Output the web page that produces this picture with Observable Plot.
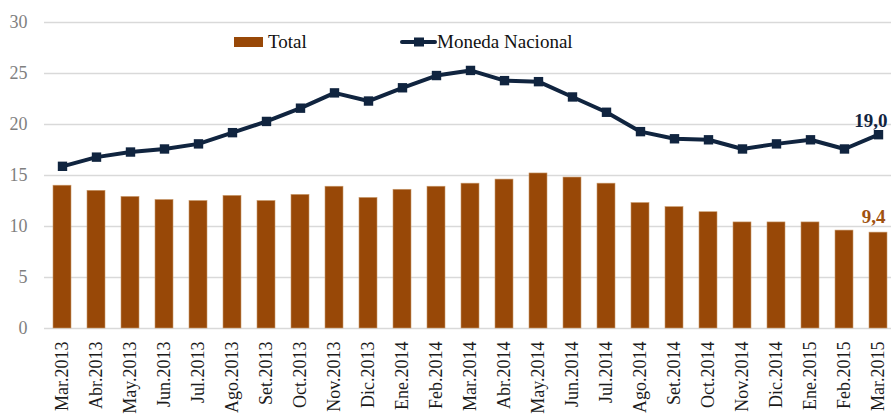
<!DOCTYPE html>
<html>
<head>
<meta charset="utf-8">
<script src="https://cdn.jsdelivr.net/npm/d3@7"></script>
<script src="https://cdn.jsdelivr.net/npm/@observablehq/plot@0.6"></script>
<style>
  html, body { margin: 0; padding: 0; background: #fff; }
  #wrap { position: relative; width: 891px; height: 415px; overflow: hidden; }
  #legend { position: absolute; left: 0; top: 0; pointer-events: none; }
</style>
</head>
<body>
<div id="wrap"></div>
<script>
const months = ["Mar.2013","Abr.2013","May.2013","Jun.2013","Jul.2013","Ago.2013","Set.2013","Oct.2013","Nov.2013","Dic.2013","Ene.2014","Feb.2014","Mar.2014","Abr.2014","May.2014","Jun.2014","Jul.2014","Ago.2014","Set.2014","Oct.2014","Nov.2014","Dic.2014","Ene.2015","Feb.2015","Mar.2015"];
const total = [14.0,13.5,12.9,12.6,12.5,13.0,12.5,13.1,13.9,12.8,13.6,13.9,14.2,14.6,15.2,14.8,14.2,12.3,11.9,11.4,10.4,10.4,10.4,9.6,9.4];
const monedaNacional = [15.9,16.8,17.3,17.6,18.1,19.2,20.3,21.6,23.1,22.3,23.6,24.8,25.3,24.3,24.2,22.7,21.2,19.3,18.6,18.5,17.6,18.1,18.5,17.6,19.0];
const yTicks = [0,5,10,15,20,25,30];
const seriesNames = ["Total","Moneda Nacional"];

const rows = months.map((m, i) => ({month: m, total: total[i], mn: monedaNacional[i]}));
const last = [rows[rows.length - 1]];
const fmt = v => v.toFixed(1).replace(".", ",");

const BROWN = "#984807";
const NAVY = "#10243f";
const FONT = "'Liberation Serif', 'DejaVu Serif', serif";

const chart = Plot.plot({
  width: 891,
  height: 415,
  marginTop: 22,
  marginBottom: 87,
  marginLeft: 44,
  marginRight: 0,
  style: {fontFamily: FONT, background: "white", overflow: "visible"},
  x: {type: "band", domain: months, range: [44.5, 895], paddingInner: 0.47, paddingOuter: 0.235, label: null},
  y: {domain: [0, 30], label: null},
  marks: [
    Plot.gridY(yTicks, {stroke: "#d9d9d9", strokeOpacity: 1, strokeWidth: 1.3}),
    Plot.axisY(yTicks, {tickSize: 0, tickPadding: 17, fontSize: 18, fill: "#7f7f7f", label: null}),
    Plot.axisX({tickRotate: -90, tickSize: 0, tickPadding: 13, fontSize: 18, fill: "#1a1a1a", label: null}),
    Plot.barY(rows, {x: "month", y: "total", fill: BROWN, stroke: "#c99a6c", strokeWidth: 0.6}),
    Plot.line(rows, {x: "month", y: "mn", stroke: NAVY, strokeWidth: 4}),
    Plot.dot(rows, {x: "month", y: "mn", symbol: "square", r: 5.3, fill: NAVY, stroke: "none"}),
    Plot.text(last, {x: "month", y: "mn", text: d => fmt(d.mn), textAnchor: "end", lineAnchor: "bottom", dx: 9, dy: -8, fontSize: 19, fontWeight: "bold", fill: NAVY}),
    Plot.text(last, {x: "month", y: "total", text: d => fmt(d.total), textAnchor: "end", lineAnchor: "bottom", dx: 7, dy: -10, fontSize: 19, fontWeight: "bold", fill: "#a0520f"})
  ]
});

const wrap = document.getElementById("wrap");
wrap.appendChild(chart);

// Legend overlay
const ns = "http://www.w3.org/2000/svg";
const lg = document.createElementNS(ns, "svg");
lg.setAttribute("id", "legend");
lg.setAttribute("width", 891);
lg.setAttribute("height", 60);
lg.innerHTML = `
  <rect x="234" y="37" width="29" height="10" fill="${BROWN}"></rect>
  <text x="268" y="48" font-family="${FONT.replace(/'/g, "")}" font-size="19" fill="#111">${seriesNames[0]}</text>
  <line x1="402" y1="42" x2="435" y2="42" stroke="${NAVY}" stroke-width="4" stroke-linecap="round"></line>
  <rect x="414" y="37.5" width="10" height="9" fill="${NAVY}"></rect>
  <text x="437" y="48" font-family="${FONT.replace(/'/g, "")}" font-size="19" fill="#111">${seriesNames[1]}</text>
`;
wrap.appendChild(lg);
</script>
</body>
</html>
